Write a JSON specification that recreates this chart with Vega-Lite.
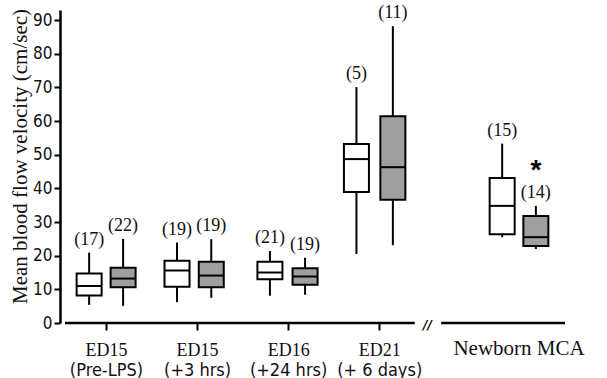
{
  "$schema": "https://vega.github.io/schema/vega-lite/v6.json",
  "width": 510,
  "height": 313,
  "autosize": "none",
  "padding": {"left": 60, "top": 10, "right": 37, "bottom": 55},
  "background": "white",
  "config": {
    "view": {"stroke": null},
    "axisY": {"labelOverlap": false, "tickCount": 10}
  },
  "datasets": {
    "boxes": [
      {"group": "ED15 (Pre-LPS)", "series": "control", "pos": 0.815, "low": 5.4, "q1": 8.2, "median": 11.0, "q3": 14.7, "high": 20.9, "n": "(17)"},
      {"group": "ED15 (Pre-LPS)", "series": "LPS", "pos": 1.188, "low": 5.1, "q1": 10.6, "median": 13.2, "q3": 16.4, "high": 25.0, "n": "(22)"},
      {"group": "ED15 (+3 hrs)", "series": "control", "pos": 1.78, "low": 6.2, "q1": 10.8, "median": 15.6, "q3": 18.5, "high": 23.9, "n": "(19)"},
      {"group": "ED15 (+3 hrs)", "series": "LPS", "pos": 2.156, "low": 7.5, "q1": 10.6, "median": 14.1, "q3": 18.2, "high": 24.9, "n": "(19)"},
      {"group": "ED16 (+24 hrs)", "series": "control", "pos": 2.8, "low": 8.1, "q1": 13.0, "median": 15.0, "q3": 18.2, "high": 21.4, "n": "(21)"},
      {"group": "ED16 (+24 hrs)", "series": "LPS", "pos": 3.186, "low": 8.4, "q1": 11.4, "median": 13.8, "q3": 16.3, "high": 19.4, "n": "(19)"},
      {"group": "ED21 (+ 6 days)", "series": "control", "pos": 3.75, "low": 20.5, "q1": 38.9, "median": 48.7, "q3": 53.2, "high": 70.1, "n": "(5)"},
      {"group": "ED21 (+ 6 days)", "series": "LPS", "pos": 4.15, "low": 23.1, "q1": 36.6, "median": 46.3, "q3": 61.4, "high": 88.2, "n": "(11)"},
      {"group": "Newborn MCA", "series": "control", "pos": 5.35, "low": 25.5, "q1": 26.4, "median": 34.8, "q3": 43.1, "high": 53.3, "n": "(15)"},
      {"group": "Newborn MCA", "series": "LPS", "pos": 5.72, "low": 22.0, "q1": 22.9, "median": 25.5, "q3": 31.8, "high": 34.8, "n": "(14)"}
    ],
    "axisline": [
      {"x": 0.55, "x2": 4.39, "y": 0},
      {"x": 4.68, "x2": 6.04, "y": 0}
    ],
    "brk": [{"x": 4.53, "y": 0, "t": "//"}],
    "sig": [{"x": 5.72, "y": 47, "t": "*"}]
  },
  "resolve": {"axis": {"x": "independent"}},
  "layer": [
    {
      "data": {"name": "boxes"},
      "mark": {"type": "rule", "color": "black", "strokeWidth": 2},
      "encoding": {
        "x": {
          "field": "pos", "type": "quantitative",
          "scale": {"domain": [0.55, 6.04], "nice": false, "zero": false},
          "axis": {
            "orient": "bottom", "values": [1, 2, 3, 4], "domain": false, "grid": false,
            "ticks": true, "tickSize": 7, "tickWidth": 2, "tickColor": "black",
            "labelFont": "Liberation Serif", "labelFontSize": 18, "labelColor": "#111",
            "labelPadding": 11,
            "labelExpr": "datum.value == 1 ? 'ED15' : datum.value == 2 ? 'ED15' : datum.value == 3 ? 'ED16' : 'ED21'",
            "title": null
          }
        },
        "y": {
          "field": "low", "type": "quantitative",
          "scale": {"domain": [0, 93], "nice": false, "zero": true},
          "axis": {
            "values": [0, 10, 20, 30, 40, 50, 60, 70, 80, 90],
            "labelOverlap": false,
            "grid": false, "domainColor": "black", "domainWidth": 2.5,
            "tickColor": "black", "tickSize": 6, "tickWidth": 2,
            "labelFont": "DejaVu Sans Condensed", "labelFontSize": 17, "labelColor": "#111",
            "labelPadding": 2,
            "title": "Mean blood flow velocity (cm/sec)",
            "titleFont": "Liberation Serif", "titleFontSize": 21, "titleFontWeight": "normal",
            "titleColor": "#111", "titlePadding": 2, "titleY": 146
          }
        },
        "y2": {"field": "high"}
      }
    },
    {
      "data": {"name": "boxes"},
      "mark": {"type": "bar", "width": 25, "stroke": "black", "strokeWidth": 2},
      "encoding": {
        "x": {
          "field": "pos", "type": "quantitative",
          "axis": {
            "orient": "bottom", "values": [1, 2, 3, 4], "domain": false, "grid": false,
            "ticks": false, "tickSize": 0,
            "labelFont": "DejaVu Sans Condensed", "labelFontSize": 18, "labelColor": "#111",
            "labelPadding": 38,
            "labelExpr": "datum.value == 1 ? '(Pre-LPS)' : datum.value == 2 ? '(+3 hrs)' : datum.value == 3 ? '(+24 hrs)' : '(+ 6 days)'",
            "title": null
          }
        },
        "y": {"field": "q1", "type": "quantitative"},
        "y2": {"field": "q3"},
        "fill": {
          "field": "series", "type": "nominal",
          "scale": {"domain": ["control", "LPS"], "range": ["white", "#9f9f9f"]},
          "legend": null
        }
      }
    },
    {
      "data": {"name": "boxes"},
      "mark": {"type": "tick", "orient": "horizontal", "size": 25, "thickness": 2, "color": "black", "opacity": 1},
      "encoding": {
        "x": {
          "field": "pos", "type": "quantitative",
          "axis": {
            "orient": "bottom", "values": [5.53], "domain": false, "grid": false,
            "ticks": false, "tickSize": 0,
            "labelFont": "Liberation Serif", "labelFontSize": 21, "labelColor": "#111",
            "labelPadding": 14,
            "labelExpr": "'Newborn MCA'",
            "title": null
          }
        },
        "y": {"field": "median", "type": "quantitative"}
      }
    },
    {
      "data": {"name": "boxes"},
      "mark": {"type": "text", "baseline": "bottom", "dy": -4, "font": "Liberation Serif", "fontSize": 18, "color": "#111"},
      "encoding": {
        "x": {"field": "pos", "type": "quantitative", "axis": null},
        "y": {"field": "high", "type": "quantitative"},
        "text": {"field": "n"}
      }
    },
    {
      "data": {"name": "axisline"},
      "mark": {"type": "rule", "color": "black", "strokeWidth": 2.5},
      "encoding": {
        "x": {"field": "x", "type": "quantitative", "axis": null},
        "x2": {"field": "x2"},
        "y": {"field": "y", "type": "quantitative"}
      }
    },
    {
      "data": {"name": "brk"},
      "mark": {"type": "text", "font": "DejaVu Sans", "fontSize": 12, "fontWeight": "bold", "fontStyle": "italic", "baseline": "middle", "color": "black", "dy": 2},
      "encoding": {
        "x": {"field": "x", "type": "quantitative", "axis": null},
        "y": {"field": "y", "type": "quantitative"},
        "text": {"field": "t"}
      }
    },
    {
      "data": {"name": "sig"},
      "mark": {"type": "text", "font": "Liberation Sans", "fontSize": 28, "fontWeight": "bold", "baseline": "middle", "color": "black", "dy": 6},
      "encoding": {
        "x": {"field": "x", "type": "quantitative", "axis": null},
        "y": {"field": "y", "type": "quantitative"},
        "text": {"field": "t"}
      }
    }
  ]
}
